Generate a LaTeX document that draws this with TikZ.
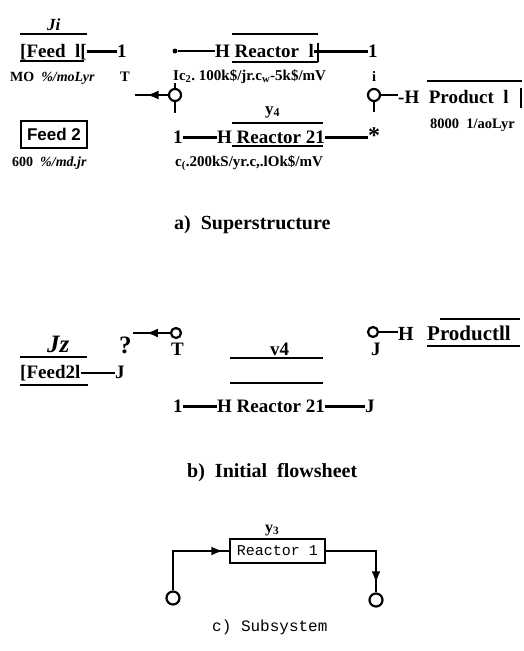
\documentclass[tikz,border=0pt]{standalone}
\usepackage{fontspec}
\setmainfont{Liberation Serif}
\setsansfont{Liberation Sans}
\setmonofont{Liberation Mono}
\usetikzlibrary{arrows.meta,decorations.markings}
\begin{document}
\begin{tikzpicture}[x=1pt,y=-1pt,
 big/.style={anchor=base west,inner sep=0pt,text height=13pt,text depth=2pt,font=\bfseries\fontsize{19}{19}\selectfont},
 sm/.style={anchor=base west,inner sep=0pt,font=\bfseries\fontsize{14.5}{15}\selectfont},
 capt/.style={anchor=base west,inner sep=0pt,font=\bfseries\fontsize{20}{20}\selectfont},
 ital/.style={anchor=base west,inner sep=0pt,font=\bfseries\itshape\fontsize{17}{17}\selectfont},
 yl/.style={anchor=base west,inner sep=0pt,font=\bfseries\fontsize{17}{17}\selectfont},
 ln/.style={line width=2.6pt},
 thinln/.style={line width=2pt},
 spl/.style={circle,draw,line width=2.2pt,minimum size=12pt,inner sep=0pt},
 midarrow/.style={postaction={decorate},decoration={markings,mark=at position #1 with {\arrow{Latex[length=12pt,width=9pt]}}}},
]
\useasboundingbox (0,0) rectangle (523,651);

% ---------------- a) Superstructure
\node[ital] (ji) at (47,30) {Ji};
\draw[thinln] (20,34) -- (87,34);
\node[big] (feedA) at (20,57) {[Feed\ \ l[};
\draw[thinln] (20,61) -- (84,61);
\node[big] (oneA) at (117,57) {1};
\draw[ln] (feedA.east) -- (oneA.west);
\node[sm,font=\bfseries\fontsize{14}{14}\selectfont] (moA) at (10,81) {MO\ \ \textit{\%/moLyr}};
\node[sm] (tA) at (120,81) {T};

\node[spl] (s1) at (175,95) {};
\coordinate (s1n) at (175,83);
\coordinate (s1s) at (175,113);
\coordinate (s1w) at (135,95);
\draw[ln] (s1.north) -- (s1n);
\draw[ln] (s1.south) -- (s1s);
\draw[ln,midarrow=0.65] (s1.west) -- (s1w);

\node[circle,fill,inner sep=0pt,minimum size=5pt] (dotA) at (175,51) {};
\node[big] (reacA) at (215,57) {H\ Reactor\ \ l};
\draw[ln] (dotA) -- (dotA -| reacA.west);
\draw[thinln] (232,34) -- (318,34);
\draw[thinln] (232,62) -- (318,62);
\draw[thinln] (318,43) -- (318,62);
\node[big] (oneB) at (368,57) {1};
\draw[ln] (reacA.east) -- (oneB.west);
\node[sm,font=\bfseries\fontsize{15}{15}\selectfont] (costA) at (173,80) {Ic\textsubscript{2}.\ 100k\$/jr.c\textsubscript{w}-5k\$/mV};
\node[sm] (iA) at (372,81) {i};

\node[spl] (s2) at (374,95) {};
\coordinate (s2s) at (374,112);
\draw[ln] (s2.south) -- (s2s);
\node[big] (prodA) at (398,103) {-H\ \ Product\ \ l};
\draw[ln] (s2.east) -- (s2.east -| prodA.west);
\draw[thinln] (427,81) -- (522,81);
\draw[thinln] (521,88) -- (521,108);
\node[sm] (pcap) at (430,128) {8000\ \ 1/aoLyr};

\node[yl] (y4) at (265,114) {y\textsubscript{4}};
\draw[thinln] (232,123) -- (323,123);
\node[big] (oneC) at (173,143) {1};
\node[big] (reacB) at (217,143) {H\ Reactor\ 21};
\draw[thinln] (232,146) -- (323,146);
\node[anchor=base west,inner sep=0pt,font=\bfseries\fontsize{24}{24}\selectfont] (starA) at (368,143) {*};
\draw[ln] (oneC.east) -- (reacB.west);
\draw[ln] (reacB.east) -- (reacB.east -| starA.west);
\node[sm,font=\bfseries\fontsize{15}{15}\selectfont] (costB) at (175,166) {c\textsubscript{(}.200kS/yr.c,.lOk\$/mV};

\node[draw,line width=2.6pt,minimum width=66pt,minimum height=27pt,inner sep=0pt,
      font=\sffamily\bfseries\fontsize{17}{17}\selectfont] (feed2) at (54,134.5) {Feed 2};
\node[sm,font=\bfseries\fontsize{14}{14}\selectfont] (f2cap) at (12,166) {600\ \ \textit{\%/md.jr}};

\node[capt] (capA) at (174,229) {a)\ \ Superstructure};

% ---------------- b) Initial flowsheet
\node[ital,font=\bfseries\itshape\fontsize{25}{25}\selectfont] (jz) at (47,352) {Jz};
\draw[thinln] (20,357) -- (87,357);
\node[big] (feedB) at (20,378) {[Feed2l};
\draw[thinln] (20,385) -- (88,385);
\node[big] (jB) at (115,378) {J};
\draw[thinln] (feedB.east) -- (jB.west);
\node[anchor=base west,inner sep=0pt,font=\bfseries\fontsize{25}{25}\selectfont] (qB) at (119,353) {?};

\node[spl,minimum size=10pt] (s3) at (176,333) {};
\coordinate (s3w) at (133,333);
\draw[ln,midarrow=0.65] (s3.west) -- (s3w);
\node[big] (tB) at (171,355) {T};

\node[big] (v4) at (270,355) {v4};
\draw[thinln] (230,358) -- (323,358);
\draw[thinln] (230,383) -- (323,383);
\node[big] (oneD) at (173,412) {1};
\node[big] (reacC) at (217,412) {H\ Reactor\ 21};
\node[big] (jD) at (365,412) {J};
\draw[ln] (oneD.east) -- (reacC.west);
\draw[ln] (reacC.east) -- (jD.west);

\node[spl,minimum size=10pt] (s4) at (373,332) {};
\node[big] (jC) at (371,355) {J};
\node[big,font=\bfseries\fontsize{20}{20}\selectfont] (hB) at (398,340) {H};
\node[big,font=\bfseries\fontsize{21}{21}\selectfont] (prodB) at (427,340) {Productll};
\draw[ln] (s4.east) -- (s4.east -| hB.west);
\draw[thinln] (427,346) -- (520,346);
\draw[thinln] (440,319) -- (520,319);

\node[capt] (capB) at (187,477) {b)\ \ Initial\ \ flowsheet};

% ---------------- c) Subsystem
\node[yl,font=\bfseries\fontsize{16}{16}\selectfont] (y3c) at (265,532) {y\textsubscript{3}};
\node[draw,line width=2pt,minimum width=95pt,minimum height=24pt,inner sep=0pt,
      font=\ttfamily\fontsize{15}{15}\selectfont] (r1) at (277.5,551) {Reactor 1};
\node[spl,minimum size=13pt] (c1) at (173,598) {};
\node[spl,minimum size=13pt] (c2) at (376,600) {};
\coordinate (k1) at (173,551);
\coordinate (k2) at (376,551);
\draw[ln,midarrow=0.94] (c1.north) -- (k1) -- (r1.west);
\draw[ln,midarrow=0.9] (r1.east) -- (k2) -- (c2.north);
\node[anchor=base west,inner sep=0pt,font=\ttfamily\fontsize{16}{16}\selectfont] (capC) at (212,631) {c) Subsystem};
\end{tikzpicture}
\end{document}
